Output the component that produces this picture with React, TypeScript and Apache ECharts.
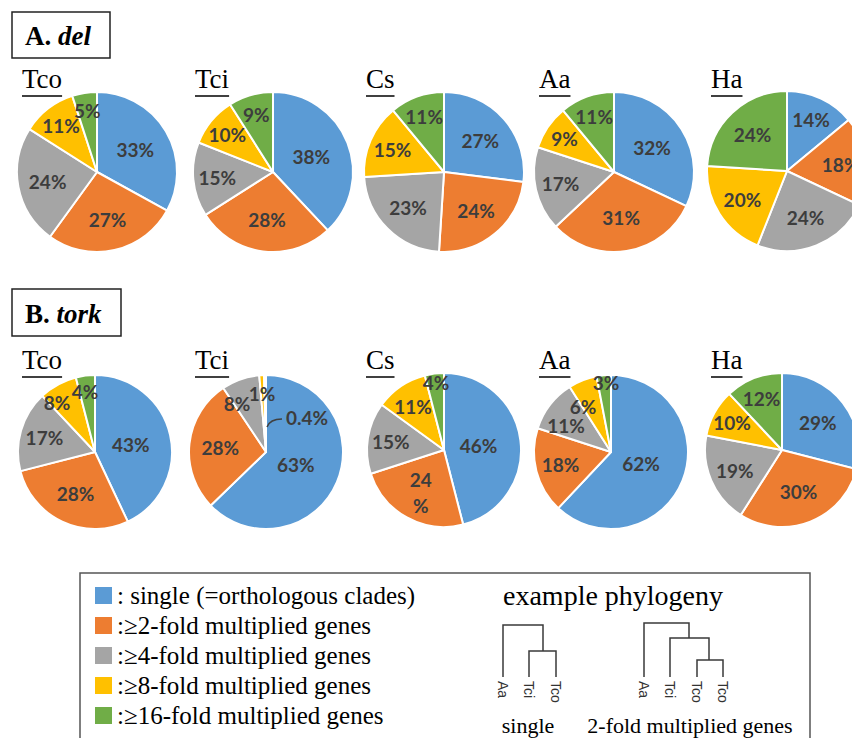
import React, { useEffect, useRef } from 'react';
import * as echarts from 'echarts';

// ---------- data ----------
const categories = [
  'single (=orthologous clades)',
  '≥2-fold multiplied genes',
  '≥4-fold multiplied genes',
  '≥8-fold multiplied genes',
  '≥16-fold multiplied genes',
];
const sliceColors = ['#5B9BD5', '#ED7D31', '#A5A5A5', '#FFC000', '#70AD47'];
const species = ['Tco', 'Tci', 'Cs', 'Aa', 'Ha'];
const delValues = [
  [33, 27, 24, 11, 5],
  [38, 28, 15, 10, 9],
  [27, 24, 23, 15, 11],
  [32, 31, 17, 9, 11],
  [14, 18, 24, 20, 24],
];
const torkValues = [
  [43, 28, 17, 8, 4],
  [63, 28, 8, 1, 0.4],
  [46, 24, 15, 11, 4],
  [62, 18, 11, 6, 3],
  [29, 30, 19, 10, 12],
];
const treeSingleTips = ['Aa', 'Tci', 'Tco'];
const treeMultiTips = ['Aa', 'Tci', 'Tco', 'Tco'];

// ---------- layout ----------
const TITLE_X = [22, 195, 366, 539, 711];
const ROW_A = { key: 'A', centers: [[97, 172], [273, 172], [444, 172], [614, 172], [787, 171]], r: 80, titleBase: 92 };
const ROW_B = { key: 'B', centers: [[95, 452], [266, 452], [444, 450], [611, 452], [782, 450]], r: 77, titleBase: 373 };
// label placement overrides (offset from pie centre)
const labelOverrides: Record<string, [number, number]> = {
  'B-0-3': [-38, -50],
  'B-0-4': [-10, -61],
  'B-1-2': [-29, -49],
  'B-1-3': [-4, -59],
  'B-1-4': [41, -35],
  'B-2-3': [-31, -44],
  'B-2-4': [-8, -68],
  'B-3-2': [-45, -27],
  'B-3-3': [-28, -46],
  'B-3-4': [-5, -70],
};
const wrappedLabels: Record<string, boolean> = { 'B-2-1': true };

const SERIF = "'Liberation Serif', 'Times New Roman', serif";
const SANS = "'Liberation Sans', Arial, sans-serif";
const LABEL_FONT = "Lato, 'Open Sans', sans-serif";

function measure(text: string, font: string): number {
  const c = document.createElement('canvas');
  const ctx = c.getContext('2d');
  if (!ctx) return text.length * 12;
  ctx.font = font;
  return ctx.measureText(text).width;
}

function pieSeries(row: typeof ROW_A, values: number[], idx: number) {
  const center = row.centers[idx];
  const r = row.r;
  const total = values.reduce((a, b) => a + b, 0);
  const mids: number[] = [];
  let cum = 0;
  values.forEach((v) => {
    mids.push((2 * Math.PI * (cum + v / 2)) / total);
    cum += v;
  });
  return {
    type: 'pie',
    id: `${row.key}-${idx}`,
    center: center,
    radius: r,
    startAngle: 90,
    clockwise: true,
    silent: true,
    data: values.map((v, i) => ({ name: categories[i], value: v, itemStyle: { color: sliceColors[i] } })),
    itemStyle: { borderColor: '#ffffff', borderWidth: 2 },
    label: {
      show: true,
      position: 'inside',
      color: '#3d3d3d',
      fontFamily: LABEL_FONT,
      fontWeight: 'bold',
      fontSize: 19,
      lineHeight: 26,
      formatter: (p: any) => (wrappedLabels[`${row.key}-${idx}-${p.dataIndex}`] ? `${p.value}\n%` : `${p.value}%`),
    },
    labelLine: { show: false },
    emphasis: { disabled: true },
    labelLayout: (p: any) => {
      const i = p.dataIndex;
      const key = `${row.key}-${idx}-${i}`;
      const [cx, cy] = center;
      let x: number;
      let y: number;
      if (labelOverrides[key]) {
        x = cx + labelOverrides[key][0];
        y = cy + labelOverrides[key][1];
      } else {
        const v = values[i];
        const k = Math.min(0.82, Math.max(0.42, 0.82 - 0.008 * v));
        x = cx + k * r * Math.sin(mids[i]);
        y = cy - k * r * Math.cos(mids[i]);
      }
      return { x, y, align: 'center', verticalAlign: 'middle' };
    },
  };
}

function titleGraphics(row: typeof ROW_A): any[] {
  const out: any[] = [];
  species.forEach((s, i) => {
    const w = measure(s, `27px ${SERIF}`);
    out.push({
      type: 'text',
      x: TITLE_X[i],
      y: row.titleBase,
      style: { text: s, fontFamily: SERIF, fontSize: 27, fill: '#000', textAlign: 'left', textVerticalAlign: 'bottom' },
    });
    out.push({
      type: 'line',
      shape: { x1: TITLE_X[i], y1: row.titleBase + 4, x2: TITLE_X[i] + w, y2: row.titleBase + 4 },
      style: { stroke: '#000', lineWidth: 1.5 },
    });
  });
  return out;
}

function treeGraphics(): any[] {
  const stroke = { stroke: '#3a3a3a', lineWidth: 1.5, fill: 'none' };
  const out: any[] = [];
  const singleX = [503, 529, 556];
  const multiX = [644, 670, 697, 723];
  out.push({ type: 'polyline', shape: { points: [[singleX[0], 677], [singleX[0], 625], [543, 625], [543, 651]] }, style: stroke });
  out.push({ type: 'polyline', shape: { points: [[singleX[1], 677], [singleX[1], 651], [singleX[2], 651], [singleX[2], 677]] }, style: stroke });
  out.push({ type: 'polyline', shape: { points: [[multiX[0], 677], [multiX[0], 623], [689, 623], [689, 638]] }, style: stroke });
  out.push({ type: 'polyline', shape: { points: [[multiX[1], 677], [multiX[1], 638], [709, 638], [709, 660]] }, style: stroke });
  out.push({ type: 'polyline', shape: { points: [[multiX[2], 677], [multiX[2], 660], [multiX[3], 660], [multiX[3], 677]] }, style: stroke });
  const tip = (t: string, x: number) => ({
    type: 'text',
    x: x,
    y: 681,
    rotation: -Math.PI / 2,
    style: { text: t, fontFamily: SANS, fontSize: 14, fill: '#333', textAlign: 'left', textVerticalAlign: 'middle' },
  });
  treeSingleTips.forEach((t, i) => out.push(tip(t, singleX[i])));
  treeMultiTips.forEach((t, i) => out.push(tip(t, multiX[i])));
  out.push({ type: 'text', x: 528, y: 725, style: { text: 'single', fontFamily: SERIF, fontSize: 22, fill: '#000', textAlign: 'center', textVerticalAlign: 'middle' } });
  out.push({ type: 'text', x: 690, y: 725, style: { text: '2-fold multiplied genes', fontFamily: SERIF, fontSize: 22, fill: '#000', textAlign: 'center', textVerticalAlign: 'middle' } });
  out.push({ type: 'text', x: 503, y: 595, style: { text: 'example phylogeny', fontFamily: SERIF, fontSize: 28, fill: '#000', textAlign: 'left', textVerticalAlign: 'middle' } });
  return out;
}

export default function App() {
  const ref = useRef<HTMLDivElement>(null);
  useEffect(() => {
    if (!ref.current) return;
    const chart = echarts.init(ref.current, null, { renderer: 'svg' });
    const series: any[] = [];
    delValues.forEach((vals, i) => series.push(pieSeries(ROW_A, vals, i)));
    torkValues.forEach((vals, i) => series.push(pieSeries(ROW_B, vals, i)));

    const tciB = ROW_B.centers[1];
    const graphic: any[] = [
      { type: 'rect', shape: { x: 12, y: 12, width: 98, height: 46 }, style: { fill: 'none', stroke: '#222', lineWidth: 1.5 } },
      {
        type: 'text', x: 25, y: 36,
        style: {
          text: '{b|A. }{bi|del}', textVerticalAlign: 'middle',
          rich: {
            b: { fontFamily: SERIF, fontSize: 27, fontWeight: 'bold', fill: '#000' },
            bi: { fontFamily: SERIF, fontSize: 27, fontWeight: 'bold', fontStyle: 'italic', fill: '#000' },
          },
        },
      },
      { type: 'rect', shape: { x: 12, y: 289, width: 109, height: 47 }, style: { fill: 'none', stroke: '#222', lineWidth: 1.5 } },
      {
        type: 'text', x: 25, y: 314,
        style: {
          text: '{b|B. }{bi|tork}', textVerticalAlign: 'middle',
          rich: {
            b: { fontFamily: SERIF, fontSize: 27, fontWeight: 'bold', fill: '#000' },
            bi: { fontFamily: SERIF, fontSize: 27, fontWeight: 'bold', fontStyle: 'italic', fill: '#000' },
          },
        },
      },
      ...titleGraphics(ROW_A),
      ...titleGraphics(ROW_B),
      {
        type: 'bezierCurve', z: 100,
        shape: { x1: tciB[0] + 1, y1: tciB[1] - 25, cpx1: tciB[0] + 4, cpy1: tciB[1] - 33, x2: tciB[0] + 16, y2: tciB[1] - 33 },
        style: { stroke: '#404040', lineWidth: 1.5, fill: 'none' },
      },
      { type: 'rect', shape: { x: 80, y: 573, width: 730, height: 200 }, style: { fill: 'none', stroke: '#555', lineWidth: 1.5 } },
      ...treeGraphics(),
    ];

    chart.setOption({
      animation: false,
      backgroundColor: '#ffffff',
      legend: {
        data: categories,
        orient: 'vertical',
        left: 95,
        top: 583,
        padding: 0,
        itemWidth: 17,
        itemHeight: 17,
        itemGap: 5,
        icon: 'rect',
        selectedMode: false,
        itemStyle: { borderWidth: 0 },
        formatter: (n: string) => (n.startsWith('single') ? ': ' : ':') + n,
        textStyle: { fontFamily: SERIF, fontSize: 25, lineHeight: 25, color: '#000', padding: 0 },
      },
      series,
      graphic,
    });
    return () => chart.dispose();
  }, []);
  return <div ref={ref} style={{ position: 'fixed', left: 0, top: 0, width: 852, height: 738, background: '#fff' }} />;
}
